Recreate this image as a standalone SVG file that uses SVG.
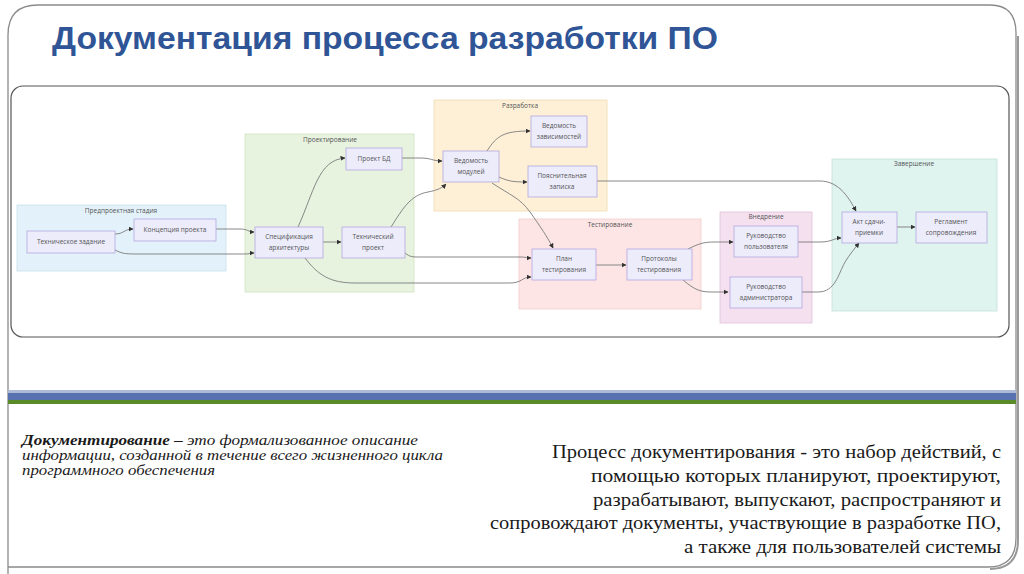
<svg xmlns="http://www.w3.org/2000/svg" width="1024" height="574" viewBox="0 0 1024 574">
<defs>
<style>
.node rect{fill:#ececfb;stroke:#b3a9de;stroke-width:0.8}
.node text,.grp text{font-family:"Open Sans","Liberation Sans",sans-serif;font-size:6.5px;fill:#555;text-anchor:middle}
.edges path{fill:none;stroke:#7a7a7a;stroke-width:0.9;marker-end:url(#arr)}
.serif{font-family:"Liberation Serif","DejaVu Serif",serif;fill:#1a1a1a}
</style>
<marker id="arr" viewBox="0 0 10 10" refX="9" refY="5" markerWidth="5" markerHeight="5" markerUnits="userSpaceOnUse" orient="auto">
<path d="M0,0 L10,5 L0,10 z" fill="#333"/>
</marker>
</defs>
<rect width="1024" height="574" fill="#fff"/>
<!-- slide frame -->
<path d="M1018,36 L1018,540 Q1018,569 990,569" fill="none" stroke="#999" stroke-width="2"/>
<path d="M8,574 L8,35 Q8,5 38,5 L990,5 Q1016,5 1016,33 L1016,538 Q1016,567 988,567 L8,567" fill="none" stroke="#8a8a8a" stroke-width="1.3"/>
<text x="52" y="49" font-family="'Liberation Sans Narrow','Liberation Sans',sans-serif" font-weight="bold" font-size="31" fill="#2f5597" textLength="666" lengthAdjust="spacingAndGlyphs">Документация процесса разработки ПО</text>
<!-- diagram frame -->
<rect x="11" y="86" width="998" height="251" rx="12" fill="#fff" stroke="#555" stroke-width="1.2"/>

<g id="grp-pre" class="grp"><rect x="17" y="205" width="209" height="66" fill="#e3f2fa" stroke="#c9e1ec" stroke-width="0.8"/><text x="121" y="213">Предпроектная стадия</text></g>
<g id="grp-design" class="grp"><rect x="245" y="134" width="169" height="158" fill="#e7f2df" stroke="#cfe3c1" stroke-width="0.8"/><text x="330" y="142">Проектирование</text></g>
<g id="grp-dev" class="grp"><rect x="434" y="100" width="173" height="111" fill="#fdf0d7" stroke="#f0dcb2" stroke-width="0.8"/><text x="520" y="108">Разработка</text></g>
<g id="grp-test" class="grp"><rect x="519" y="219" width="182" height="90" fill="#fde5e5" stroke="#f0cdcd" stroke-width="0.8"/><text x="610" y="227">Тестирование</text></g>
<g id="grp-impl" class="grp"><rect x="720" y="212" width="92" height="111" fill="#f5e0ef" stroke="#e0c1d9" stroke-width="0.8"/><text x="766" y="219">Внедрение</text></g>
<g id="grp-end" class="grp"><rect x="832" y="159" width="165" height="152" fill="#dff3ef" stroke="#c3e2da" stroke-width="0.8"/><text x="914" y="166">Завершение</text></g>

<g class="edges">
<path d="M115,234 C124,234 124,229 133,229"/>
<path d="M115,250 C121,253 124,254 135,254 L245,254 C250,254 250,253 254,253"/>
<path d="M216,229 L240,229 C248,229 248,232 254,232"/>
<path d="M298,227 C314,192 318,160 345,158"/>
<path d="M323,242 L341,242"/>
<path d="M305,258 C318,275 330,283 355,283 L510,283 C522,283 522,277 531,277"/>
<path d="M402,158 L420,158 C432,158 432,161 442,161"/>
<path d="M391,227 C402,210 410,195 428,192 C438,190 442,188 446,184"/>
<path d="M405,253 C410,257 412,257 420,257 L520,257 C526,257 527,258 531,258"/>
<path d="M487,151 C497,135 505,131 530,131"/>
<path d="M499,177 C508,181 512,182 527,182"/>
<path d="M492,183 C510,195 520,198 530,212 C540,226 548,238 553,248"/>
<path d="M597,181 L820,181 C840,181 850,200 856,211"/>
<path d="M596,265 L626,265"/>
<path d="M688,249 C700,243 705,242 715,242 L733,242"/>
<path d="M683,280 C695,290 700,292 712,292 L728,292"/>
<path d="M798,242 L820,242 C832,242 834,238 841,238"/>
<path d="M802,292 L818,292 C835,292 838,275 845,262 C850,254 855,248 859,243"/>
<path d="M897,227 L915,227"/>
</g>

<g id="n-tz" class="node"><rect x="27" y="231" width="88" height="22"/><text x="71" y="244">Техническое задание</text></g>
<g id="n-kp" class="node"><rect x="134" y="219" width="82" height="22"/><text x="175" y="232">Концепция проекта</text></g>
<g id="n-spec" class="node"><rect x="255" y="227" width="68" height="31"/><text x="289" y="239">Спецификация</text><text x="289" y="250">архитектуры</text></g>
<g id="n-bd" class="node"><rect x="346" y="148" width="56" height="22"/><text x="374" y="161">Проект БД</text></g>
<g id="n-tp" class="node"><rect x="342" y="227" width="63" height="31"/><text x="373" y="239">Технический</text><text x="373" y="250">проект</text></g>
<g id="n-vm" class="node"><rect x="443" y="151" width="56" height="31"/><text x="471" y="163">Ведомость</text><text x="471" y="174">модулей</text></g>
<g id="n-vz" class="node"><rect x="531" y="116" width="56" height="31"/><text x="559" y="128">Ведомость</text><text x="559" y="139">зависимостей</text></g>
<g id="n-pz" class="node"><rect x="528" y="166" width="69" height="31"/><text x="562" y="178">Пояснительная</text><text x="562" y="189">записка</text></g>
<g id="n-plan" class="node"><rect x="532" y="249" width="64" height="31"/><text x="564" y="261">План</text><text x="564" y="272">тестирования</text></g>
<g id="n-prot" class="node"><rect x="627" y="249" width="65" height="31"/><text x="659" y="261">Протоколы</text><text x="659" y="272">тестирования</text></g>
<g id="n-rp" class="node"><rect x="734" y="226" width="64" height="31"/><text x="766" y="238">Руководство</text><text x="766" y="249">пользователя</text></g>
<g id="n-ra" class="node"><rect x="730" y="277" width="72" height="31"/><text x="766" y="289">Руководство</text><text x="766" y="300">администратора</text></g>
<g id="n-akt" class="node"><rect x="842" y="212" width="55" height="31"/><text x="869" y="224">Акт сдачи-</text><text x="869" y="235">приемки</text></g>
<g id="n-reg" class="node"><rect x="916" y="212" width="71" height="31"/><text x="951" y="224">Регламент</text><text x="951" y="235">сопровождения</text></g>

<!-- stripes -->
<rect x="8" y="390" width="1008" height="3" fill="#aebbd8"/>
<rect x="8" y="393" width="1008" height="7" fill="#5872b0"/>
<rect x="8" y="400" width="1008" height="4" fill="#5b8a28"/>

<g class="serif" font-size="14" font-style="italic">
<text x="22" y="445" textLength="396" lengthAdjust="spacingAndGlyphs"><tspan font-weight="bold">Документирование –</tspan> это формализованное описание</text>
<text x="22" y="460" textLength="421" lengthAdjust="spacingAndGlyphs">информации, созданной в течение всего жизненного цикла</text>
<text x="22" y="475" textLength="193" lengthAdjust="spacingAndGlyphs">программного обеспечения</text>
</g>
<g class="serif" font-size="18" text-anchor="end">
<text x="1001" y="458" textLength="449" lengthAdjust="spacingAndGlyphs">Процесс документирования - это набор действий, с</text>
<text x="1001" y="482" textLength="410" lengthAdjust="spacingAndGlyphs">помощью которых планируют, проектируют,</text>
<text x="1001" y="506" textLength="408" lengthAdjust="spacingAndGlyphs">разрабатывают, выпускают, распространяют и</text>
<text x="1001" y="529" textLength="511" lengthAdjust="spacingAndGlyphs">сопровождают документы, участвующие в разработке ПО,</text>
<text x="1001" y="553" textLength="317" lengthAdjust="spacingAndGlyphs">а также для пользователей системы</text>
</g>
</svg>
